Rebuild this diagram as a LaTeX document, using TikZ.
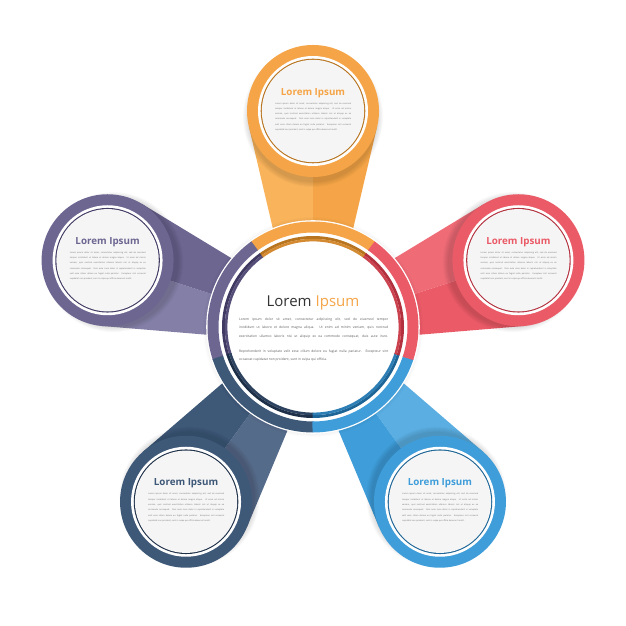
\documentclass[tikz,border=0pt]{standalone}
\usepackage{fontspec}
\setmainfont{Open Sans}
\usetikzlibrary{calc}
\definecolor{orA}{HTML}{F5A547}\definecolor{orL}{HTML}{F8B35B}\definecolor{orD}{HTML}{B8741F}
\definecolor{puA}{HTML}{6C6691}\definecolor{puL}{HTML}{847FA7}\definecolor{puD}{HTML}{403A63}
\definecolor{rdA}{HTML}{EA5A67}\definecolor{rdL}{HTML}{EF6C77}\definecolor{rdD}{HTML}{B3303E}
\definecolor{nvA}{HTML}{3E5878}\definecolor{nvL}{HTML}{556B8A}\definecolor{nvD}{HTML}{1E3048}
\definecolor{blA}{HTML}{3F9DD9}\definecolor{blL}{HTML}{5BAEE2}\definecolor{blD}{HTML}{1D6596}
\definecolor{txD}{HTML}{333333}\definecolor{txB}{HTML}{5A5A5A}\definecolor{txS}{HTML}{707070}
\definecolor{inF}{HTML}{F5F5F5}
\tikzset{
  bodyline/.style={anchor=base west,inner sep=0pt,text=txB,font=\fontsize{3.3}{4}\selectfont},
  smallline/.style={anchor=base west,inner sep=0pt,text=txS,font=\fontsize{2.1}{3}\selectfont},
  smalltitle/.style={anchor=base,inner sep=0pt,font=\fontsize{9.8}{11}\selectfont\bfseries},
  bigtitle/.style={anchor=base,inner sep=0pt,font=\fontsize{15}{18}\selectfont},
}
\begin{document}
\begin{tikzpicture}[x=1pt,y=1pt]
\useasboundingbox[fill=white] (0,0) rectangle (626,626);
\coordinate (C) at (313,299);
% stems
\foreach \a/\c/\l/\d in {90/orA/orL/orD,162/puA/puL/puD,234/nvA/nvL/nvD,306/blA/blL/blD,18/rdA/rdL/rdD}{
  \begin{scope}[shift={(C)},rotate=\a-90]
    \fill[\l] (0,80) -- (-35.8,80) -- (-64.2,200.8) -- (0,216) -- cycle;
    \fill[\c] (0,80) -- (35.8,80) -- (64.2,200.8) -- (0,216) -- cycle;
  \end{scope}
}
% small circles
\foreach \a/\c/\l/\d in {90/orA/orL/orD,162/puA/puL/puD,234/nvA/nvL/nvD,306/blA/blL/blD,18/rdA/rdL/rdD}{
  \coordinate (P\a) at ($(C)+(\a:216)$);
  \foreach \i in {1,...,6}{
    \fill[black,opacity=0.025] ($(P\a)+(\a+180:6)$) circle ({64+\i});
  }
  \fill[\c] (P\a) circle (66);
  \fill[white] (P\a) circle (55);
  \fill[\d] (P\a) circle (52.3);
  \fill[inF] (P\a) circle (51.2);
  \node[smalltitle,text=\c] (T\a) at ($(P\a)+(0,15.8)$) {Lorem Ipsum};
  \foreach \t [count=\i from 0] in {{Lorem ipsum dolor sit amet, consectetur adipiscing elit, sed do eiusmod},
      {tempor incididunt ut labore et dolore magna aliqua. Ut enim ad minim},
      {veniam, quis nostrud exercitation ullamco laboris nisi ut aliquip ex ea},
      {commodo consequat. Duis aute irure dolor in reprehenderit in voluptate},
      {velit esse cillum dolore eu fugiat nulla pariatur. Excepteur sint occaecat}}{
    \node[smallline] (S\a-\i) at ($(P\a)+(-38,6.9-5.3*\i)$) {\makebox[76pt][s]{\t}};
  }
  \node[smallline] (S\a-5) at ($(P\a)+(-38,-19.6)$) {cupidatat non proident, sunt in culpa qui officia deserunt mollit.};
}
% center shadow and disk
\foreach \i in {1,...,4}{
  \fill[black,opacity=0.012] (C) circle ({106+\i});
}
\fill[white] (C) circle (106.8);
\foreach \a/\c/\l/\d in {90/orA/orL/orD,162/puA/puL/puD,234/nvA/nvL/nvD,306/blA/blL/blD,18/rdA/rdL/rdD}{
  \draw[\c,line width=11pt] ($(C)+(\a-36.3:100)$) arc[start angle=\a-36.3,end angle=\a+36.3,radius=100];
  \draw[\d,line width=2.8pt] ($(C)+(\a-36.3:89.6)$) arc[start angle=\a-36.3,end angle=\a+36.3,radius=89.6];
  \draw[\d!55!\c,line width=2.6pt] ($(C)+(\a-36.3:86.9)$) arc[start angle=\a-36.3,end angle=\a+36.3,radius=86.9];
}
% center text
\node[bigtitle] (CT) at (313,319.1) {\textcolor{txD}{Lorem}\hspace{4pt}\textcolor{orA}{Ipsum}};
\node[bodyline] (B1) at (239,305.7) {\makebox[149pt][s]{Lorem ipsum dolor sit amet, consectetur adipiscing elit, sed do eiusmod tempor}};
\node[bodyline] (B2) at (239,297.0) {\makebox[149pt][s]{incididunt ut labore et dolore magna aliqua. Ut enim ad minim veniam, quis nostrud}};
\node[bodyline] (B3) at (239,288.3) {\makebox[149pt][s]{exercitation ullamco laboris nisi ut aliquip ex ea commodo consequat, duis aute irure.}};
\node[bodyline] (B4) at (239,273.3) {\makebox[149pt][s]{Reprehenderit in voluptate velit esse cillum dolore eu fugiat nulla pariatur. Excepteur sint}};
\node[bodyline] (B5) at (239,265.0) {occaecat cupidatat non proident, sunt in culpa qui officia.};
\end{tikzpicture}
\end{document}
